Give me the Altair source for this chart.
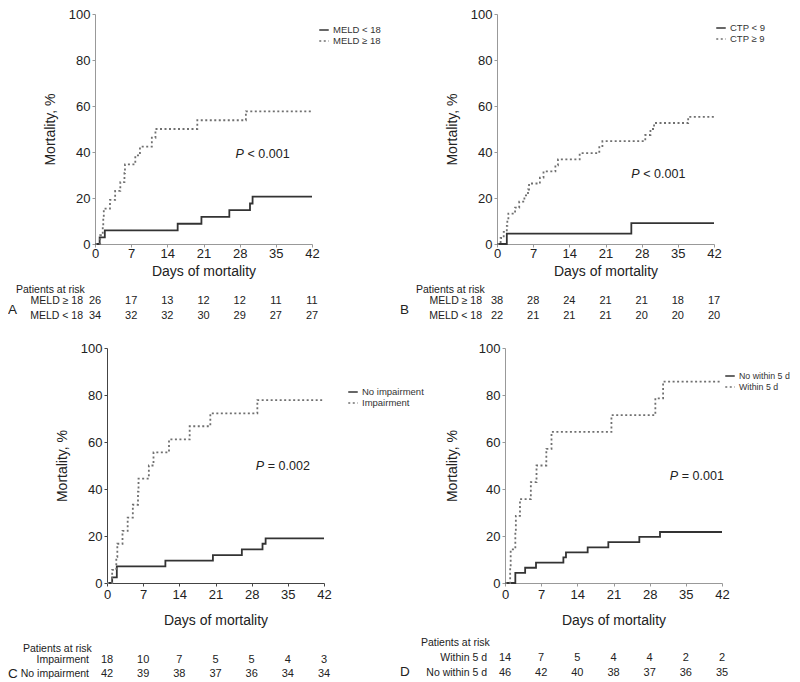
import altair as alt
import pandas as pd

FONT = "Liberation Sans"

days = [0, 7, 14, 21, 28, 35, 42]
y_ticks = [0, 20, 40, 60, 80, 100]

# Panel A (MELD)
A_lo_t = [0, 0.9, 1.9, 16.0, 20.6, 26.0, 30.0, 30.5, 42]
A_lo_v = [0, 2.9, 5.9, 8.8, 11.8, 14.7, 17.6, 20.6, 20.6]
A_hi_t = [0, 1.0, 1.5, 1.6, 1.7, 2.9, 3.9, 4.9, 5.7, 5.8, 7.8, 8.7, 11.0, 11.7, 19.8, 29.2, 42]
A_hi_v = [0, 3.8, 7.7, 11.5, 15.4, 19.2, 23.1, 26.9, 30.8, 34.6, 38.5, 42.3, 46.2, 50.0, 53.8, 57.7, 57.7]
A_legend = ["MELD < 18", "MELD \u2265 18"]
A_rows = ["MELD \u2265 18", "MELD < 18"]
A_risk_hi = [26, 17, 13, 12, 12, 11, 11]
A_risk_lo = [34, 32, 32, 30, 29, 27, 27]

# Panel B (CTP)
B_lo_t = [0, 1.9, 26.0, 42]
B_lo_v = [0, 4.5, 9.1, 9.1]
B_hi_t = [0, 0.7, 1.3, 1.9, 2.0, 2.2, 3.5, 4.3, 5.3, 6.0, 6.2, 8.3, 9.0, 11.3, 11.8, 16.0, 19.8, 20.4, 28.7, 29.7, 30.4, 37.0, 42]
B_hi_v = [0, 2.6, 5.3, 7.9, 10.5, 13.2, 15.8, 18.4, 21.1, 23.7, 26.3, 28.9, 31.6, 34.2, 36.8, 39.5, 42.1, 44.7, 47.4, 50.0, 52.6, 55.3, 55.3]
B_legend = ["CTP < 9", "CTP \u2265 9"]
B_rows = ["MELD \u2265 18", "MELD < 18"]
B_risk_hi = [38, 28, 24, 21, 21, 18, 17]
B_risk_lo = [22, 21, 21, 21, 20, 20, 20]

# Panel C (impairment)
C_lo_t = [0, 1.0, 1.9, 11.3, 20.5, 26.1, 30.1, 30.7, 42]
C_lo_v = [0, 2.4, 7.1, 9.5, 11.9, 14.3, 16.7, 19.0, 19.0]
C_hi_t = [0, 1.0, 1.8, 2.0, 3.0, 4.0, 5.0, 6.0, 6.1, 8.1, 9.0, 12.0, 16.0, 20.0, 29.1, 42]
C_hi_v = [0, 5.6, 11.1, 16.7, 22.2, 27.8, 33.3, 38.9, 44.4, 50.0, 55.6, 61.1, 66.7, 72.2, 77.8, 77.8]
C_legend = ["No impairment", "Impairment"]
C_rows = ["Impairment", "No impairment"]
C_risk_hi = [18, 10, 7, 5, 5, 4, 3]
C_risk_lo = [42, 39, 38, 37, 36, 34, 34]

# Panel D (within 5 d)
D_lo_t = [0, 2.0, 3.9, 6.0, 11.3, 11.8, 16.0, 20.0, 26.0, 30.0, 42]
D_lo_v = [0, 4.3, 6.5, 8.7, 10.9, 13.0, 15.2, 17.4, 19.6, 21.7, 21.7]
D_hi_t = [0, 1.0, 1.1, 2.0, 2.1, 2.9, 5.0, 6.1, 8.0, 9.0, 20.6, 29.1, 30.6, 42]
D_hi_v = [0, 7.1, 14.3, 21.4, 28.6, 35.7, 42.9, 50.0, 57.1, 64.3, 71.4, 78.6, 85.7, 85.7]
D_legend = ["No within 5 d", "Within 5 d"]
D_rows = ["Within 5 d", "No within 5 d"]
D_risk_hi = [14, 7, 5, 4, 4, 2, 2]
D_risk_lo = [46, 42, 40, 38, 37, 36, 35]

p_texts = {"A": "< 0.001", "B": "< 0.001", "C": "= 0.002", "D": "= 0.001"}
p_pos = {"A": (27.2, 39.2), "B": (26.0, 30.4), "C": (28.8, 49.9), "D": (31.9, 45.4)}


def panel(letter, lo_t, lo_v, hi_t, hi_v, legend_labels, row_labels, risk_hi, risk_lo, cfg):
    w, h, xoff = cfg["w"], cfg["h"], cfg["xoff"]
    g_lo, g_hi = legend_labels
    df = pd.DataFrame(
        [{"t": t, "v": v, "g": g_lo} for t, v in zip(lo_t, lo_v)]
        + [{"t": t, "v": v, "g": g_hi} for t, v in zip(hi_t, hi_v)]
    )
    xscale = alt.Scale(domain=[0, 42], nice=False, zero=False, range=[xoff, w])
    yscale = alt.Scale(domain=[0, 100], nice=False)
    xaxis = alt.Axis(values=days, title="Days of mortality", tickSize=3,
                     labelPadding=cfg["xlp"], titlePadding=cfg["xtp"],
                     domainColor=cfg["axcol"], tickColor=cfg["axcol"], grid=False,
                     labelFlush=False)
    yaxis = alt.Axis(values=y_ticks, title="Mortality, %", tickSize=3, labelPadding=2,
                     titlePadding=cfg["ytp"], offset=-xoff,
                     domainColor=cfg["axcol"], tickColor=cfg["axcol"], grid=False,
                     labelFlush=False)
    leg = alt.Legend(title=None, orient="none", legendX=cfg["lx"], legendY=cfg["ly"],
                     symbolType="stroke", symbolSize=90, symbolStrokeWidth=1.6,
                     labelFontSize=cfg["lfs"], labelFont=FONT, labelColor="#333333",
                     rowPadding=0, labelOffset=3, padding=0)
    lines = alt.Chart(df).mark_line(interpolate="step-after", strokeWidth=1.8).encode(
        x=alt.X("t:Q", scale=xscale, axis=xaxis),
        y=alt.Y("v:Q", scale=yscale, axis=yaxis),
        color=alt.Color("g:N", scale=alt.Scale(domain=[g_lo, g_hi], range=["#333333", "#707070"]), legend=leg),
        strokeDash=alt.StrokeDash("g:N", scale=alt.Scale(domain=[g_lo, g_hi], range=[[1, 0], [2, 2.5]]), legend=leg),
    )
    px, py = p_pos[letter]
    pdf = pd.DataFrame({"t": [px], "v": [py], "p": ["P"], "s": [p_texts[letter]]})
    p_italic = alt.Chart(pdf).mark_text(align="left", fontSize=12.5, fontStyle="italic", color="#222222").encode(
        x=alt.X("t:Q", scale=xscale, axis=xaxis), y=alt.Y("v:Q", scale=yscale, axis=yaxis), text="p:N")
    p_rest = alt.Chart(pdf).mark_text(align="left", fontSize=12.5, dx=12, color="#222222").encode(
        x=alt.X("t:Q", scale=xscale, axis=xaxis), y=alt.Y("v:Q", scale=yscale, axis=yaxis), text="s:N")

    rdf = pd.DataFrame({"t": days, "hi": risk_hi, "lo": risk_lo})
    n_hi = alt.Chart(rdf).mark_text(fontSize=11, color="#222222").encode(
        x=alt.X("t:Q", scale=xscale, axis=xaxis), y=alt.value(h + cfg["r1"]), text="hi:Q")
    n_lo = alt.Chart(rdf).mark_text(fontSize=11, color="#222222").encode(
        x=alt.X("t:Q", scale=xscale, axis=xaxis), y=alt.value(h + cfg["r2"]), text="lo:Q")
    ldf = pd.DataFrame({"hi": [row_labels[0]], "lo": [row_labels[1]],
                        "par": ["Patients at risk"], "letter": [letter]})
    lab_hi = alt.Chart(ldf).mark_text(align="right", fontSize=10.5, color="#222222").encode(
        x=alt.value(cfg["labx"]), y=alt.value(h + cfg["r1"]), text="hi:N")
    lab_lo = alt.Chart(ldf).mark_text(align="right", fontSize=10.5, color="#222222").encode(
        x=alt.value(cfg["labx"]), y=alt.value(h + cfg["r2"]), text="lo:N")
    par = alt.Chart(ldf).mark_text(align="left", fontSize=10.5, color="#222222").encode(
        x=alt.value(cfg["parx"]), y=alt.value(h + cfg["par"]), text="par:N")
    let = alt.Chart(ldf).mark_text(align="left", fontSize=13.5, color="#222222").encode(
        x=alt.value(cfg["letx"]), y=alt.value(h + cfg["let"]), text="letter:N")

    return alt.layer(lines, p_italic, p_rest, n_hi, n_lo, lab_hi, lab_lo, par, let).properties(
        width=w, height=h)


cfgA = dict(w=217, h=230, xoff=0, xlp=0, xtp=4, ytp=11, axcol="#999999", lx=223, ly=10, lfs=9.5,
            r1=57, r2=72, par=46, let=66, labx=-12, parx=-79, letx=-87)
cfgB = dict(w=217, h=230, xoff=0, xlp=0, xtp=4, ytp=11, axcol="#999999", lx=218, ly=8, lfs=9.5,
            r1=57, r2=72, par=46, let=66, labx=-15, parx=-81, letx=-97)
cfgC = dict(w=229, h=235, xoff=12, xlp=2.5, xtp=12, ytp=11, axcol="#444444", lx=252, ly=38, lfs=9.5,
            r1=76.5, r2=91, par=66, let=91, labx=-6, parx=-72, letx=-87)
cfgD = dict(w=225, h=235, xoff=8, xlp=2.5, xtp=12, ytp=19, axcol="#999999", lx=227, ly=22, lfs=8.8,
            r1=74.5, r2=89.5, par=60, let=89, labx=-10, parx=-76, letx=-97)

pA = panel("A", A_lo_t, A_lo_v, A_hi_t, A_hi_v, A_legend, A_rows, A_risk_hi, A_risk_lo, cfgA)
pB = panel("B", B_lo_t, B_lo_v, B_hi_t, B_hi_v, B_legend, B_rows, B_risk_hi, B_risk_lo, cfgB)
pC = panel("C", C_lo_t, C_lo_v, C_hi_t, C_hi_v, C_legend, C_rows, C_risk_hi, C_risk_lo, cfgC)
pD = panel("D", D_lo_t, D_lo_v, D_hi_t, D_hi_v, D_legend, D_rows, D_risk_hi, D_risk_lo, cfgD)

chart = alt.concat(pA, pB, pC, pD, columns=2, spacing={"row": 104, "column": 173},
                   bounds="flush").resolve_scale(
    color="independent", strokeDash="independent").resolve_legend(
    color="independent", strokeDash="independent").properties(padding=0).configure_view(
    strokeWidth=0).configure_axis(
    labelFont=FONT, titleFont=FONT, labelFontSize=13, titleFontSize=14,
    titleFontWeight="normal", labelColor="#222222", titleColor="#222222").configure_text(font=FONT)

chart.save("out.html", embed_options={"renderer": "svg", "actions": False})
